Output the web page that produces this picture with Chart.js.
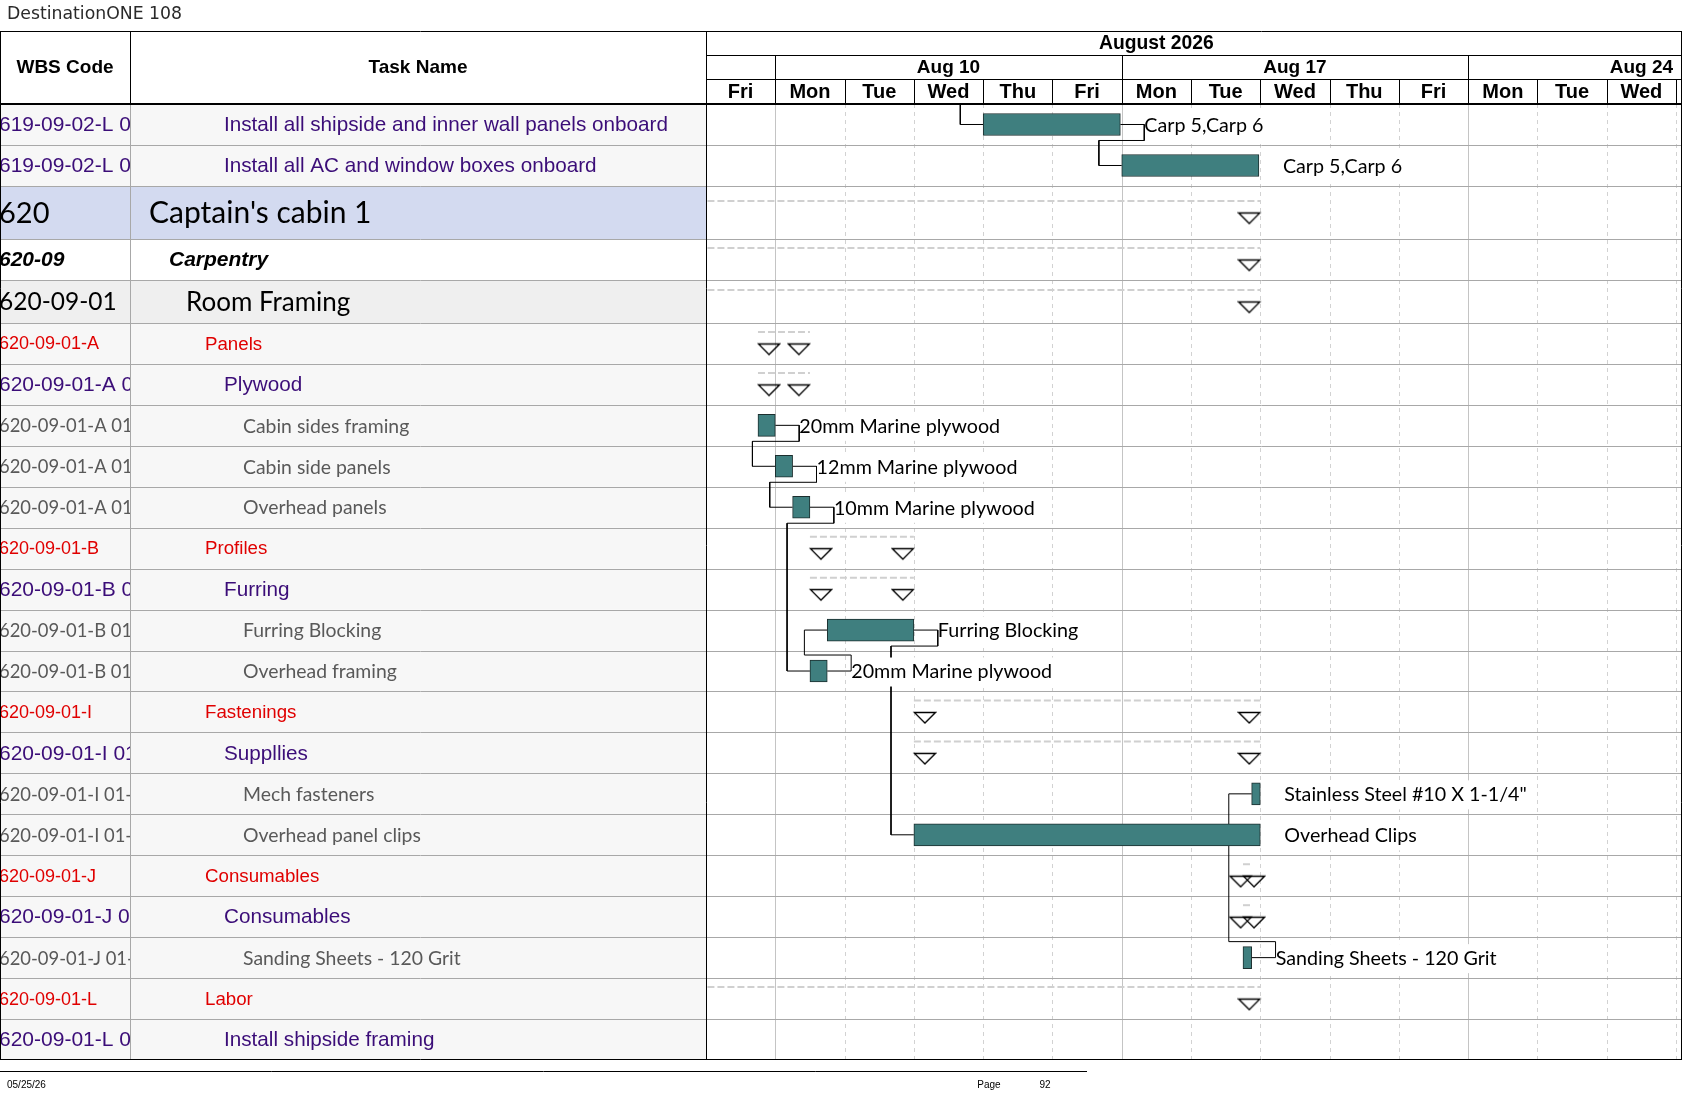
<!DOCTYPE html>
<html>
<head>
<meta charset="utf-8">
<title>DestinationONE 108</title>
<script src="https://cdn.jsdelivr.net/npm/chart.js@4.4.1/dist/chart.umd.min.js"></script>
<style>
  html, body { margin: 0; padding: 0; background: #fff; }
  #gantt { display: block; }
</style>
</head>
<body>
<canvas id="gantt" width="1687" height="1097"></canvas>
<script>
// rows of the task sheet
const wbsCodes = [
  "619-09-02-L 01", "619-09-02-L 02", "620", "620-09", "620-09-01",
  "620-09-01-A", "620-09-01-A 01", "620-09-01-A 01-01", "620-09-01-A 01-02", "620-09-01-A 01-03",
  "620-09-01-B", "620-09-01-B 01", "620-09-01-B 01-01", "620-09-01-B 01-02",
  "620-09-01-I", "620-09-01-I 01", "620-09-01-I 01-01", "620-09-01-I 01-02",
  "620-09-01-J", "620-09-01-J 01", "620-09-01-J 01-01",
  "620-09-01-L", "620-09-01-L 01"
];
const taskNames = [
  "Install all shipside and inner wall panels onboard", "Install all AC and window boxes onboard",
  "Captain's cabin 1", "Carpentry", "Room Framing",
  "Panels", "Plywood", "Cabin sides framing", "Cabin side panels", "Overhead panels",
  "Profiles", "Furring", "Furring Blocking", "Overhead framing",
  "Fastenings", "Suppllies", "Mech fasteners", "Overhead panel clips",
  "Consumables", "Consumables", "Sanding Sheets - 120 Grit",
  "Labor", "Install shipside framing"
];
const rowKinds = [
  "labor", "labor", "cabin", "trade", "room",
  "group", "labor", "item", "item", "item",
  "group", "labor", "item", "item",
  "group", "labor", "item", "item",
  "group", "labor", "item",
  "group", "labor"
];

// task bars, in working days from Fri Aug 7 (8 h = 1 day)
const barStart = [4, 6, null, null, null, null, null, 0.75, 1, 1.25, null, null, 1.75, 1.5,
  null, null, 7.875, 3, null, null, 7.75, null, null];
const barEnd = [5.98, 7.98, null, null, null, null, null, 1, 1.25, 1.5, null, null, 3, 1.75,
  null, null, 8, 8, null, null, 7.875, null, null];
const barLabels = ["Carp 5,Carp 6", "Carp 5,Carp 6", null, null, null, null, null,
  "20mm Marine plywood", "12mm Marine plywood", "10mm Marine plywood", null, null,
  "Furring Blocking", "20mm Marine plywood", null, null,
  "Stainless Steel #10 X 1-1/4\"", "Overhead Clips", null, null,
  "Sanding Sheets - 120 Grit", null, null];

// summary rollups
const summaryStart = [null, null, -2, -2, -2, 0.75, 0.75, null, null, null, 1.5, 1.5, null, null,
  3, 3, null, null, 7.75, 7.75, null, -2, null];
const summaryEnd = [null, null, 8, 8, 8, 1.5, 1.5, null, null, null, 3, 3, null, null,
  8, 8, null, null, 7.875, 7.875, null, 8, null];

// finish-to-start links [predecessor row, successor row]
const links = [[0, 1], [7, 8], [8, 9], [9, 13], [13, 12], [12, 17], [20, 16]];
const linksFromAbove = [0];

// timescale
const dayNames = ["Fri", "Mon", "Tue", "Wed", "Thu", "Fri", "Mon", "Tue", "Wed", "Thu", "Fri", "Mon", "Tue", "Wed"];
const weekLabels = ["Aug 10", "Aug 17", "Aug 24"];
const weekStarts = [1, 6, 11];
const monthLabel = "August 2026";
const monthSpan = [-4, 17];

// layout
const rowHeights = [41, 41, 53, 41, 43].concat(Array(18).fill(40.95));
const rowTops = [0];
rowHeights.forEach(h => rowTops.push(rowTops[rowTops.length - 1] + h));
const rowMid = rowHeights.map((h, i) => rowTops[i] + h / 2);
const X_MAX = 14.086;
const WBS_RIGHT = 130;
const LINK_OUT = 0.345, LINK_IN = 0.33, LINK_DROP = 16;

const kindStyle = {
  labor: { bg: "#f7f7f7", wbsFont: "21px 'Liberation Sans'", font: "20.7px 'Liberation Sans'", color: "#3b0d78", indent: 224 },
  cabin: { bg: "#d3daf0", wbsFont: "29px Lato", font: "30px Lato", color: "#000000", indent: 149 },
  trade: { bg: "#ffffff", wbsFont: "italic bold 21px 'Liberation Sans'", font: "italic bold 21px 'Liberation Sans'", color: "#000000", indent: 169 },
  room: { bg: "#efefef", wbsFont: "24.5px Lato", font: "26px Lato", color: "#000000", indent: 186 },
  group: { bg: "#f7f7f7", wbsFont: "18px 'Liberation Sans'", font: "18.7px 'Liberation Sans'", color: "#e00000", indent: 205 },
  item: { bg: "#f7f7f7", wbsFont: "18.4px Lato", font: "19.4px Lato", color: "#595959", indent: 243 }
};

const barData = [];
barStart.forEach((s, i) => {
  if (s !== null) barData.push({ x: [s, barEnd[i]], y: rowMid[i], row: i });
});

const linkSets = links.map(([p, s]) => {
  const e = barEnd[p], b = barStart[s];
  const dir = rowMid[s] > rowMid[p] ? 1 : -1;
  const yTurn = rowMid[p] + dir * LINK_DROP;
  return [
    { x: e, y: rowMid[p] }, { x: e + LINK_OUT, y: rowMid[p] }, { x: e + LINK_OUT, y: yTurn },
    { x: b - LINK_IN, y: yTurn }, { x: b - LINK_IN, y: rowMid[s] }, { x: b, y: rowMid[s] }
  ];
});
linksFromAbove.forEach(s => {
  const b = barStart[s];
  linkSets.push([{ x: b - LINK_IN, y: 0 }, { x: b - LINK_IN, y: rowMid[s] }, { x: b, y: rowMid[s] }]);
});

const summaryLines = [], startMarks = [], endMarks = [];
summaryStart.forEach((s, i) => {
  if (s === null) return;
  summaryLines.push([{ x: s, y: rowMid[i] - 11.5 }, { x: summaryEnd[i], y: rowMid[i] - 11.5 }]);
  startMarks.push({ x: s, y: rowMid[i] });
  endMarks.push({ x: summaryEnd[i], y: rowMid[i] });
});

function triangleMark(leftAligned) {
  const c = document.createElement("canvas");
  c.width = 46; c.height = 26;
  const g = c.getContext("2d");
  const x0 = leftAligned ? 23 : 1;
  g.beginPath();
  g.moveTo(x0 + 0.5, 13.5); g.lineTo(x0 + 21.5, 13.5); g.lineTo(x0 + 11, 24); g.closePath();
  g.strokeStyle = "#000"; g.lineWidth = 1.3; g.stroke();
  return c;
}

const datasets = [];
linkSets.forEach(pts => datasets.push({
  type: "line", data: pts, borderColor: "#000", borderWidth: 1, pointRadius: 0,
  fill: false, tension: 0, clip: 0, order: 3
}));
summaryLines.forEach(pts => datasets.push({
  type: "line", data: pts, borderColor: "#d0d0d0", borderWidth: 2, borderDash: [7, 3],
  pointRadius: 0, fill: false, clip: 0, order: 4
}));
datasets.push({ type: "line", data: startMarks, showLine: false, pointStyle: triangleMark(true), pointRadius: 1, order: 2 });
datasets.push({ type: "line", data: endMarks, showLine: false, pointStyle: triangleMark(false), pointRadius: 1, order: 2 });
datasets.push({
  type: "bar", data: barData, backgroundColor: "#3f7f7f", borderColor: "#1c2e2e", borderWidth: 1,
  borderSkipped: false, barThickness: 22, order: 1
});

const ganttFrame = {
  id: "ganttFrame",
  beforeDatasetsDraw(chart) {
    const ctx = chart.ctx, xs = chart.scales.x, ys = chart.scales.y, ca = chart.chartArea;
    ctx.save();
    // sheet backgrounds
    rowKinds.forEach((k, i) => {
      const t = ys.getPixelForValue(rowTops[i]), b = ys.getPixelForValue(rowTops[i + 1]);
      ctx.fillStyle = kindStyle[k].bg;
      ctx.fillRect(0, t, ca.left, b - t);
    });
    // day and week grid
    for (let u = 1; u <= 14; u++) {
      const px = Math.round(xs.getPixelForValue(u)) + 0.5;
      const week = weekStarts.includes(u);
      ctx.setLineDash(week ? [] : [4, 4]);
      ctx.strokeStyle = week ? "#c4c4c4" : "#d2d2d2";
      ctx.lineWidth = 1;
      ctx.beginPath(); ctx.moveTo(px, ca.top); ctx.lineTo(px, ca.bottom); ctx.stroke();
    }
    ctx.setLineDash([]);
    // row lines
    ctx.strokeStyle = "#a8a8a8";
    for (let i = 1; i < rowTops.length - 1; i++) {
      const py = Math.round(ys.getPixelForValue(rowTops[i])) + 0.5;
      ctx.beginPath(); ctx.moveTo(0, py); ctx.lineTo(ca.right, py); ctx.stroke();
    }
    ctx.beginPath(); ctx.moveTo(WBS_RIGHT + 0.5, ca.top); ctx.lineTo(WBS_RIGHT + 0.5, ca.bottom); ctx.stroke();
    // sheet text
    ctx.textBaseline = "middle";
    rowKinds.forEach((k, i) => {
      const st = kindStyle[k];
      const t = ys.getPixelForValue(rowTops[i]), b = ys.getPixelForValue(rowTops[i + 1]);
      const cy = (t + b) / 2 + 1;
      ctx.fillStyle = st.color;
      ctx.save();
      ctx.beginPath(); ctx.rect(0, t, WBS_RIGHT, b - t); ctx.clip();
      ctx.font = st.wbsFont; ctx.textAlign = "left";
      ctx.fillText(wbsCodes[i], -1, cy);
      ctx.restore();
      ctx.save();
      ctx.beginPath(); ctx.rect(WBS_RIGHT + 1, t, ca.left - WBS_RIGHT - 1, b - t); ctx.clip();
      ctx.font = st.font;
      ctx.fillText(taskNames[i], st.indent, cy);
      ctx.restore();
    });
    ctx.restore();
  },
  afterDatasetsDraw(chart) {
    const ctx = chart.ctx, xs = chart.scales.x, ys = chart.scales.y;
    ctx.save();
    ctx.font = "19.7px Lato";
    ctx.textBaseline = "middle";
    ctx.textAlign = "left";
    barLabels.forEach((lab, i) => {
      if (!lab) return;
      const lx = xs.getPixelForValue(barEnd[i]) + 24;
      const cy = ys.getPixelForValue(rowMid[i]) + 1;
      // bar text sits on an opaque box, like the link lines pass under it
      ctx.fillStyle = "#fff";
      ctx.fillRect(lx + 1.5, cy - 14.5, ctx.measureText(lab).width, 29);
      ctx.fillStyle = "#000";
      ctx.fillText(lab, lx, cy);
    });
    ctx.restore();
  },
  afterDraw(chart) {
    const ctx = chart.ctx, xs = chart.scales.x, ca = chart.chartArea;
    const top = 31, tier1 = 55, tier2 = 79;
    ctx.save();
    ctx.fillStyle = "#000";
    ctx.strokeStyle = "#000";
    ctx.lineWidth = 1;
    // header separators
    const hline = (y, x1, x2) => { ctx.beginPath(); ctx.moveTo(x1, y); ctx.lineTo(x2, y); ctx.stroke(); };
    const vline = (x, y1, y2) => { ctx.beginPath(); ctx.moveTo(x, y1); ctx.lineTo(x, y2); ctx.stroke(); };
    hline(top + 0.5, 0, ca.right);
    hline(tier1 + 0.5, ca.left, ca.right);
    hline(tier2 + 0.5, ca.left, ca.right);
    weekStarts.forEach(u => vline(Math.round(xs.getPixelForValue(u)) + 0.5, tier1, ca.top));
    for (let u = 1; u <= 14; u++) vline(Math.round(xs.getPixelForValue(u)) + 0.5, tier2, ca.top);
    vline(WBS_RIGHT + 0.5, top, ca.top);
    vline(0.5, top, ca.bottom);
    vline(ca.left + 0.5, top, ca.bottom);
    vline(ca.right - 0.5, top, ca.bottom);
    hline(ca.bottom - 0.5, 0, ca.right);
    ctx.lineWidth = 2;
    hline(ca.top, 0, ca.right);
    // header text
    ctx.textBaseline = "middle";
    ctx.textAlign = "center";
    ctx.font = "bold 19px 'Liberation Sans'";
    ctx.fillText("WBS Code", 65, 68);
    ctx.fillText("Task Name", 418, 68);
    ctx.save();
    ctx.beginPath(); ctx.rect(ca.left, top, ca.right - ca.left, ca.top - top); ctx.clip();
    ctx.font = "bold 19.3px 'Liberation Sans'";
    ctx.fillText(monthLabel, xs.getPixelForValue((monthSpan[0] + monthSpan[1]) / 2), 44);
    ctx.font = "bold 19px 'Liberation Sans'";
    weekLabels.forEach((w, i) => ctx.fillText(w, xs.getPixelForValue(weekStarts[i] + 2.5), 68));
    ctx.font = "bold 20px 'Liberation Sans'";
    dayNames.forEach((d, i) => ctx.fillText(d, xs.getPixelForValue(i + 0.5), 92.5));
    ctx.restore();
    // page title and footer
    ctx.textAlign = "left";
    ctx.font = "17.3px 'DejaVu Sans'";
    ctx.fillStyle = "#2a2a2a";
    ctx.fillText("DestinationONE 108", 7, 15);
    ctx.lineWidth = 1;
    ctx.strokeStyle = "#000";
    hline(1071.5, 0, 1087);
    ctx.font = "10px 'Liberation Sans'";
    ctx.fillStyle = "#000";
    ctx.fillText("05/25/26", 7, 1085);
    ctx.textAlign = "center";
    ctx.fillText("Page", 989, 1085);
    ctx.fillText("92", 1045, 1085);
    ctx.restore();
  }
};

new Chart(document.getElementById("gantt"), {
  type: "bar",
  data: { datasets: datasets },
  options: {
    indexAxis: "y",
    responsive: false,
    animation: false,
    devicePixelRatio: 1,
    layout: { padding: { left: 706, top: 104, right: 2, bottom: 37 } },
    scales: {
      x: { type: "linear", min: 0, max: X_MAX, offset: false, display: false },
      y: { type: "linear", min: 0, max: rowTops[rowTops.length - 1], reverse: true, offset: false, display: false }
    },
    plugins: { legend: { display: false }, tooltip: { enabled: false } }
  },
  plugins: [ganttFrame]
});
</script>
</body>
</html>
